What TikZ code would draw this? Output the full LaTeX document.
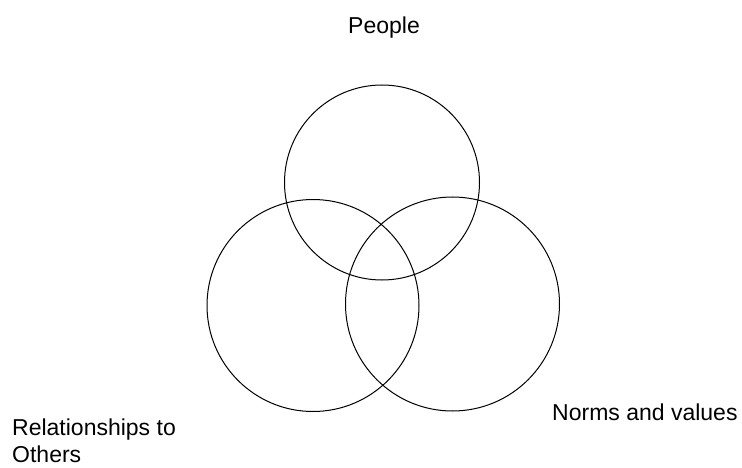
\documentclass[tikz,border=0pt]{standalone}
\usepackage{fontspec}
\setmainfont{Liberation Sans}
\begin{document}
\begin{tikzpicture}[x=1pt,y=-1pt,
  ring/.style={draw=black,line width=1pt,circle,inner sep=0pt},
  lbl/.style={anchor=base west,inner sep=0pt,font=\fontsize{23}{28}\selectfont}]
\useasboundingbox (0,0) rectangle (742,468);
\node[ring,minimum size=195pt] (people) at (382,182.5) {};
\node[ring,minimum size=212pt] (rel) at (313,305.5) {};
\node[ring,minimum size=214pt] (norms) at (452.5,304) {};
\node[lbl] (tpeople) at (348,34) {People};
\node[lbl] (trel1) at (12,435) {Relationships to};
\node[lbl] (trel2) at (12,462) {Others};
\node[lbl] (tnorms) at (552,420) {Norms and values};
\end{tikzpicture}
\end{document}
